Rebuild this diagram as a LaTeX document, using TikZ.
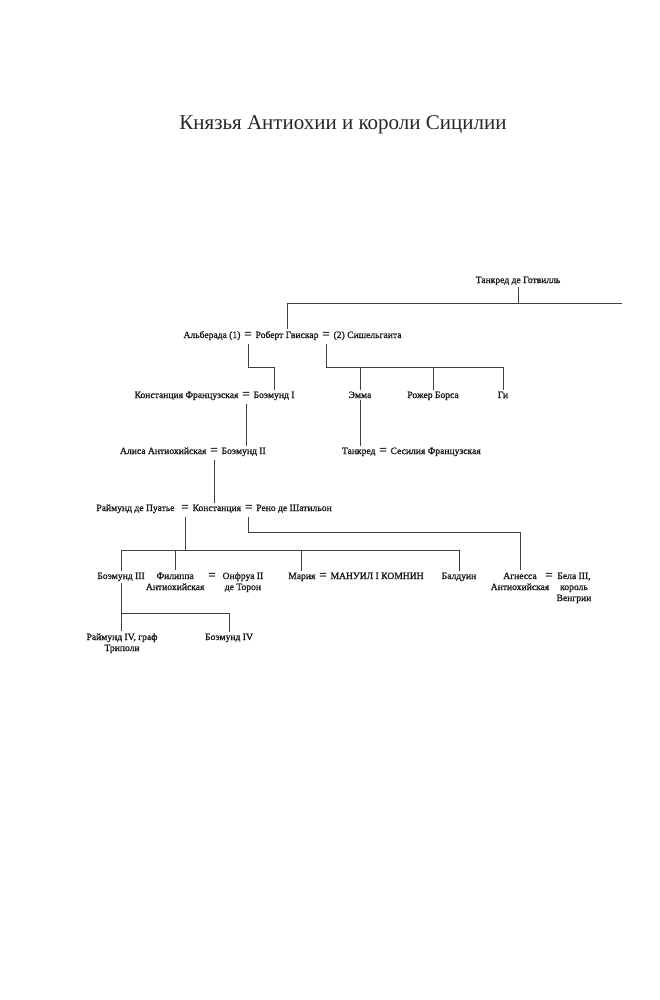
\documentclass[tikz,border=0pt]{standalone}
\usepackage{fontspec}
\setmainfont{Liberation Serif}
\newfontfamily\chartfont[FakeBold=1.2]{Liberation Serif}
\usetikzlibrary{positioning}

% names set on several lines, with the baseline of the first line
\newcommand{\namestack}[1]{\begin{tabular}[t]{@{}c@{}}#1\end{tabular}}

\begin{document}
\begin{tikzpicture}[
    x=1pt, y=-1pt,
    node distance=2pt,
    person/.style={ text=black!90,
      font=\chartfont\fontsize{9.6}{11}\selectfont,
      inner xsep=1.5pt,
      inner ysep=1.5pt},
    eq/.style={ text=black!90,
      font=\chartfont\fontsize{13}{13}\selectfont,
      inner sep=0pt,
      text height=5pt,
      text depth=6pt},
    link/.style={draw=black!75, line width=0.8pt}]
    \useasboundingbox (0,0) rectangle (660,1000);

    \node[font=\fontsize{21}{24}\selectfont, text=black!85, anchor=base] (title) at (343,130) {Князья Антиохии и короли Сицилии};

    \node[person, anchor=base] (T) at (518,283) {Танкред де Готвилль};
    \coordinate (TR) at (622,303);

    % Robert Guiscard and his wives
    \node[eq, anchor=base] (E1) at (248,338) {=};
    \node[person, base left=of E1] (Alb) {Альберада (1)};
    \node[person, base right=of E1] (Rob) {Роберт Гвискар};
    \node[eq, base right=of Rob] (E2) {=};
    \node[person, base right=of E2] (Sich) {(2) Сишельгаита};

    \node[eq, anchor=base] (E3) at (246,398) {=};
    \node[person, base left=of E3] (ConF) {Констанция Французская};
    \node[person, base right=of E3] (B1) {Боэмунд I};
    \node[person, anchor=base] (Emma) at (360,398) {Эмма};
    \node[person, anchor=base] (Rog) at (433,398) {Рожер Борса};
    \node[person, anchor=base] (Gi) at (503,398) {Ги};

    \node[eq, anchor=base] (E4) at (214,454) {=};
    \node[person, base left=of E4] (Alis) {Алиса Антиохийская};
    \node[person, base right=of E4] (B2) {Боэмунд II};
    \node[eq, anchor=base] (E5) at (383,454) {=};
    \node[person, base left=of E5] (Tan) {Танкред};
    \node[person, base right=of E5] (Ces) {Сесилия Французская};

    % Constance of Antioch
    \node[eq, anchor=base] (E6) at (185,511) {=};
    \node[person, base left=5pt of E6] (Ray) {Раймунд де Пуатье};
    \node[person, base right=of E6] (Con) {Констанция};
    \node[eq, base right=of Con] (E7) {=};
    \node[person, base right=of E7] (Ren) {Рено де Шатильон};

    \node[person, anchor=base] (B3) at (121,579) {Боэмунд III};
    \node[eq, anchor=base] (E8) at (212,579) {=};
    \node[person, base left=of E8] (Fil) {\namestack{Филиппа\\Антиохийская}};
    \node[person, base right=5pt of E8] (Onf) {\namestack{Онфруа II\\де Торон}};
    \node[eq, anchor=base] (E9) at (323,579) {=};
    \node[person, base left=of E9] (Mar) {Мария};
    \node[person, base right=of E9] (Man) {МАНУИЛ I КОМНИН};
    \node[person, anchor=base] (Bal) at (459,579) {Балдуин};
    \node[eq, anchor=base] (E10) at (549,579) {=};
    \node[person, anchor=base] (Agn) at (520,579) {\namestack{Агнесса\\Антиохийская}};
    \node[person, base right=of E10] (Bela) {\namestack{Бела III,\\король\\Венгрии}};

    \node[person, anchor=base] (Ray4) at (122,640) {\namestack{Раймунд IV, граф\\Триполи}};
    \node[person, anchor=base] (B4) at (229,640) {Боэмунд IV};

    \draw[link] (T.south) -- (T.south |- TR);
    \draw[link] (TR) -| (Rob.north);

    \draw[link] (E1.south) -- ++(0,23) -| (B1.north);
    \draw[link] (E2.south) -- ++(0,23) coordinate (K2) -| (Gi.north);
    \draw[link] (K2 -| Emma.north) -- (Emma.north);
    \draw[link] (K2 -| Rog.north) -- (Rog.north);

    \draw[link] (E3.south) -- (E3.south |- B2.north);
    \draw[link] (Emma.south) -- (Emma.south |- Tan.north);
    \draw[link] (E4.south) -- (E4.south |- Con.north);

    \draw[link] (E6.south) -- ++(0,33) coordinate (K6) -| (Bal.north);
    \draw[link] (K6) -| (B3.north);
    \draw[link] (K6 -| Fil.north) -- (Fil.north);
    \draw[link] (K6 -| Mar.north) -- (Mar.north);
    \draw[link] (E7.south) -- ++(0,15) -| (Agn.north);

    \draw[link] (B3.south) -- ++(0,31) coordinate (K8) -| (B4.north);
    \draw[link] (K8) -- (K8 |- Ray4.north);
\end{tikzpicture}
\end{document}
